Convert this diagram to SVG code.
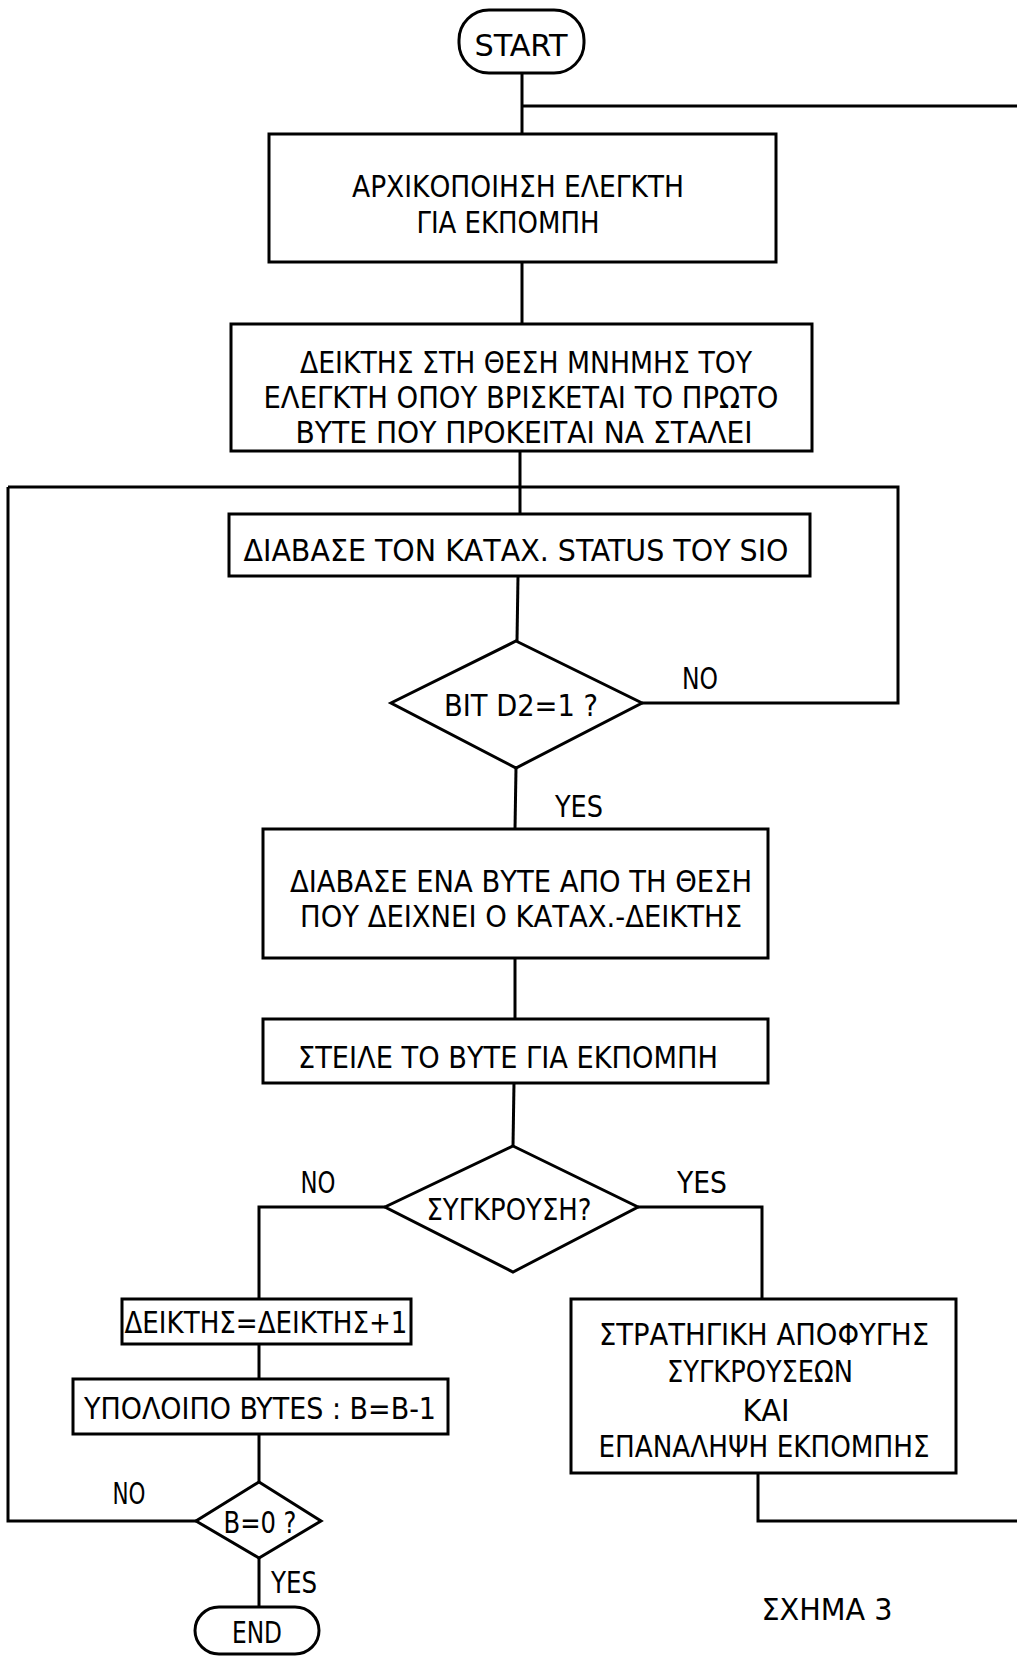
<svg xmlns="http://www.w3.org/2000/svg" width="1017" height="1656" viewBox="0 0 1017 1656">
<style>
.s{fill:none;stroke:#000;stroke-width:3}
.b{fill:#fff;stroke:#000;stroke-width:3}
text{font-family:"DejaVu Sans Condensed","DejaVu Sans","Liberation Sans",sans-serif;font-size:31px;fill:#000;text-anchor:middle}
</style>
<rect width="1017" height="1656" fill="#fff"/>
<g id="connectors" class="s">
<polyline points="522,73 522,134"/>
<polyline points="522,106 1017,106"/>
<polyline points="522,262 522,324"/>
<polyline points="520,451 520,514"/>
<polyline points="8,487 898,487 898,703 642,703"/>
<polyline points="518,576 517,641"/>
<polyline points="516,768 515,829"/>
<polyline points="515,958 515,1019"/>
<polyline points="514,1083 513,1146"/>
<polyline points="385,1207 259,1207 259,1299"/>
<polyline points="638,1207 762,1207 762,1299"/>
<polyline points="259,1344 259,1379"/>
<polyline points="259,1434 259,1482"/>
<polyline points="196,1521 8,1521 8,487"/>
<polyline points="259,1558 259,1607"/>
<polyline points="758,1473 758,1521 1017,1521"/>
</g>
<g id="start">
<rect class="b" x="459" y="10" width="125" height="63" rx="30"/>
<text x="521" y="56" textLength="93" lengthAdjust="spacingAndGlyphs">START</text>
</g>
<g id="init">
<rect class="b" x="269" y="134" width="507" height="128"/>
<text x="518" y="197" textLength="332" lengthAdjust="spacingAndGlyphs">ΑΡΧΙΚΟΠΟΙΗΣΗ ΕΛΕΓΚΤΗ</text>
<text x="508" y="233" textLength="183" lengthAdjust="spacingAndGlyphs">ΓΙΑ ΕΚΠΟΜΠΗ</text>
</g>
<g id="pointer">
<rect class="b" x="231" y="324" width="581" height="127"/>
<text x="526" y="373" textLength="452" lengthAdjust="spacingAndGlyphs">ΔΕΙΚΤΗΣ ΣΤΗ ΘΕΣΗ ΜΝΗΜΗΣ ΤΟΥ</text>
<text x="521" y="408" textLength="515" lengthAdjust="spacingAndGlyphs">ΕΛΕΓΚΤΗ ΟΠΟΥ ΒΡΙΣΚΕΤΑΙ ΤΟ ΠΡΩΤΟ</text>
<text x="524" y="443" textLength="457" lengthAdjust="spacingAndGlyphs">ΒΥΤΕ ΠΟΥ ΠΡΟΚΕΙΤΑΙ ΝΑ ΣΤΑΛΕΙ</text>
</g>
<g id="readstatus">
<rect class="b" x="229" y="514" width="581" height="62"/>
<text x="516" y="561" textLength="545" lengthAdjust="spacingAndGlyphs">ΔΙΑΒΑΣΕ ΤΟΝ ΚΑΤΑΧ. STATUS ΤΟΥ SIO</text>
</g>
<g id="bitd2">
<polygon class="b" points="516,641 642,703 516,768 391,703"/>
<text x="521" y="716" textLength="154" lengthAdjust="spacingAndGlyphs">BIT D2=1 ?</text>
</g>
<text x="700" y="689" textLength="36" lengthAdjust="spacingAndGlyphs">NO</text>
<text x="579" y="817" textLength="48" lengthAdjust="spacingAndGlyphs">YES</text>
<g id="readbyte">
<rect class="b" x="263" y="829" width="505" height="129"/>
<text x="521" y="892" textLength="462" lengthAdjust="spacingAndGlyphs">ΔΙΑΒΑΣΕ ΕΝΑ ΒΥΤΕ ΑΠΟ ΤΗ ΘΕΣΗ</text>
<text x="521" y="927" textLength="442" lengthAdjust="spacingAndGlyphs">ΠΟΥ ΔΕΙΧΝΕΙ Ο ΚΑΤΑΧ.-ΔΕΙΚΤΗΣ</text>
</g>
<g id="send">
<rect class="b" x="263" y="1019" width="505" height="64"/>
<text x="508" y="1068" textLength="420" lengthAdjust="spacingAndGlyphs">ΣΤΕΙΛΕ ΤΟ ΒΥΤΕ ΓΙΑ ΕΚΠΟΜΠΗ</text>
</g>
<g id="collision">
<polygon class="b" points="513,1146 638,1207 513,1272 385,1207"/>
<text x="509" y="1220" textLength="165" lengthAdjust="spacingAndGlyphs">ΣΥΓΚΡΟΥΣΗ?</text>
</g>
<text x="318" y="1193" textLength="35" lengthAdjust="spacingAndGlyphs">NO</text>
<text x="702" y="1193" textLength="50" lengthAdjust="spacingAndGlyphs">YES</text>
<g id="incr">
<rect class="b" x="122" y="1299" width="289" height="45"/>
<text x="266" y="1333" textLength="283" lengthAdjust="spacingAndGlyphs">ΔΕΙΚΤΗΣ=ΔΕΙΚΤΗΣ+1</text>
</g>
<g id="remaining">
<rect class="b" x="73" y="1379" width="375" height="55"/>
<text x="260" y="1419" textLength="352" lengthAdjust="spacingAndGlyphs">ΥΠΟΛΟΙΠΟ BYTES : B=B-1</text>
</g>
<g id="bzero">
<polygon class="b" points="259,1482 321,1521 259,1558 196,1521"/>
<text x="260" y="1533" textLength="73" lengthAdjust="spacingAndGlyphs">B=0 ?</text>
</g>
<text x="129" y="1504" textLength="33" lengthAdjust="spacingAndGlyphs">NO</text>
<text x="294" y="1593" textLength="46" lengthAdjust="spacingAndGlyphs">YES</text>
<g id="end">
<rect class="b" x="195" y="1607" width="124" height="47" rx="24"/>
<text x="257" y="1643" textLength="50" lengthAdjust="spacingAndGlyphs">END</text>
</g>
<g id="strategy">
<rect class="b" x="571" y="1299" width="385" height="174"/>
<text x="764" y="1345" textLength="330" lengthAdjust="spacingAndGlyphs">ΣΤΡΑΤΗΓΙΚΗ ΑΠΟΦΥΓΗΣ</text>
<text x="760" y="1382" textLength="186" lengthAdjust="spacingAndGlyphs">ΣΥΓΚΡΟΥΣΕΩΝ</text>
<text x="766" y="1421" textLength="47" lengthAdjust="spacingAndGlyphs">ΚΑΙ</text>
<text x="764" y="1457" textLength="331" lengthAdjust="spacingAndGlyphs">ΕΠΑΝΑΛΗΨΗ  ΕΚΠΟΜΠΗΣ</text>
</g>
<text x="827" y="1620" textLength="131" lengthAdjust="spacingAndGlyphs">ΣΧΗΜΑ  3</text>
</svg>
